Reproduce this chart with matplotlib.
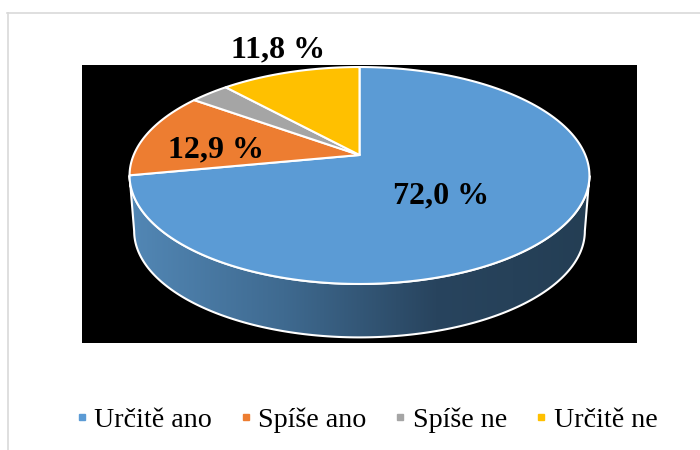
import numpy as np
import matplotlib
matplotlib.use("Agg")
import matplotlib.pyplot as plt
from matplotlib.colors import LinearSegmentedColormap
from matplotlib.lines import Line2D
from matplotlib.patches import Polygon, Rectangle

labels = ["Určitě ano", "Spíše ano", "Spíše ne", "Určitě ne"]
values = [72.0, 12.9, 3.3, 11.8]
colors = ["#5b9bd5", "#ed7d31", "#a5a5a5", "#ffc000"]
value_labels = ["72,0 %", "12,9 %", "", "11,8 %"]
side_colors = ["#5287b5", "#3f6a90", "#28445e", "#243e54"]

plt.rcParams['font.family'] = ['Liberation Serif', 'DejaVu Serif']

# pixel coordinates of the disc apex, and the tilt of the perspective
CX, CY = 359.5, 155
K = 0.189
A = 104.6
B = 225.8


def project(x, y, scale=1.0, drop=0):
    w = 1 + K * y
    return np.column_stack((CX + scale * B * x / w, CY + drop - scale * A * y / w))


fig = plt.figure(figsize=(7, 4.5), dpi=100)
ax = fig.add_axes([0, 0, 1, 1])

# pie only works out the angles, the wedges get redrawn tilted
wedges, _ = ax.pie(values, startangle=90, counterclock=False, frame=True)

ax.add_patch(Rectangle((82, 65), 555, 278, fc="black", ec="none", zorder=1))

# side of the disc, between the widest points of both rims
t = np.radians(np.linspace(-10.9, -169.1, 200))
top_edge = project(np.cos(t), np.sin(t))
bottom_edge = project(np.cos(t), np.sin(t), scale=0.98, drop=56)
side = Polygon(np.vstack((top_edge, bottom_edge[::-1])), closed=True,
               fc="none", ec="white", lw=1.5, zorder=3)
ax.add_patch(side)
cmap = LinearSegmentedColormap.from_list("side", side_colors)
img = ax.imshow(np.linspace(0, 1, 256).reshape(1, -1), cmap=cmap, aspect="auto",
                extent=(130, 590, 340, 170), zorder=2)
img.set_clip_path(side)

for w, c in zip(wedges, colors):
    w.set_visible(False)
    t = np.radians(np.linspace(w.theta1, w.theta2, 200))
    rim = project(np.cos(t), np.sin(t))
    pts = np.vstack(([[CX, CY]], rim))
    ax.add_patch(Polygon(pts, closed=True, fc=c, ec="white", lw=1.5,
                         joinstyle="round", zorder=4))

label_xy = [(441, 196), (216, 150), None, (278, 50)]
for txt, xy in zip(value_labels, label_xy):
    if txt:
        ax.text(xy[0], xy[1], txt, fontsize=23, fontweight="bold",
                ha="center", va="center", color="black", zorder=5)

# frame of the chart area
ax.add_line(Line2D([7, 700], [12.5, 12.5], color="#d9d9d9", lw=1.2))
ax.add_line(Line2D([7.5, 7.5], [12.5, 450], color="#d9d9d9", lw=1.2))

handles = [Line2D([], [], ls="none", marker="s", ms=5, color=c) for c in colors]
ax.legend(handles, labels, loc="center", bbox_to_anchor=(366 / 700, 1 - 420 / 450),
          ncol=4, frameon=False, fontsize=20.2, handlelength=0.5, handletextpad=0.2,
          columnspacing=0.95, borderpad=0, labelspacing=0)

ax.set_xlim(0, 700)
ax.set_ylim(450, 0)
ax.set_aspect("auto")
ax.axis("off")

fig.savefig("out.png", dpi=100)
